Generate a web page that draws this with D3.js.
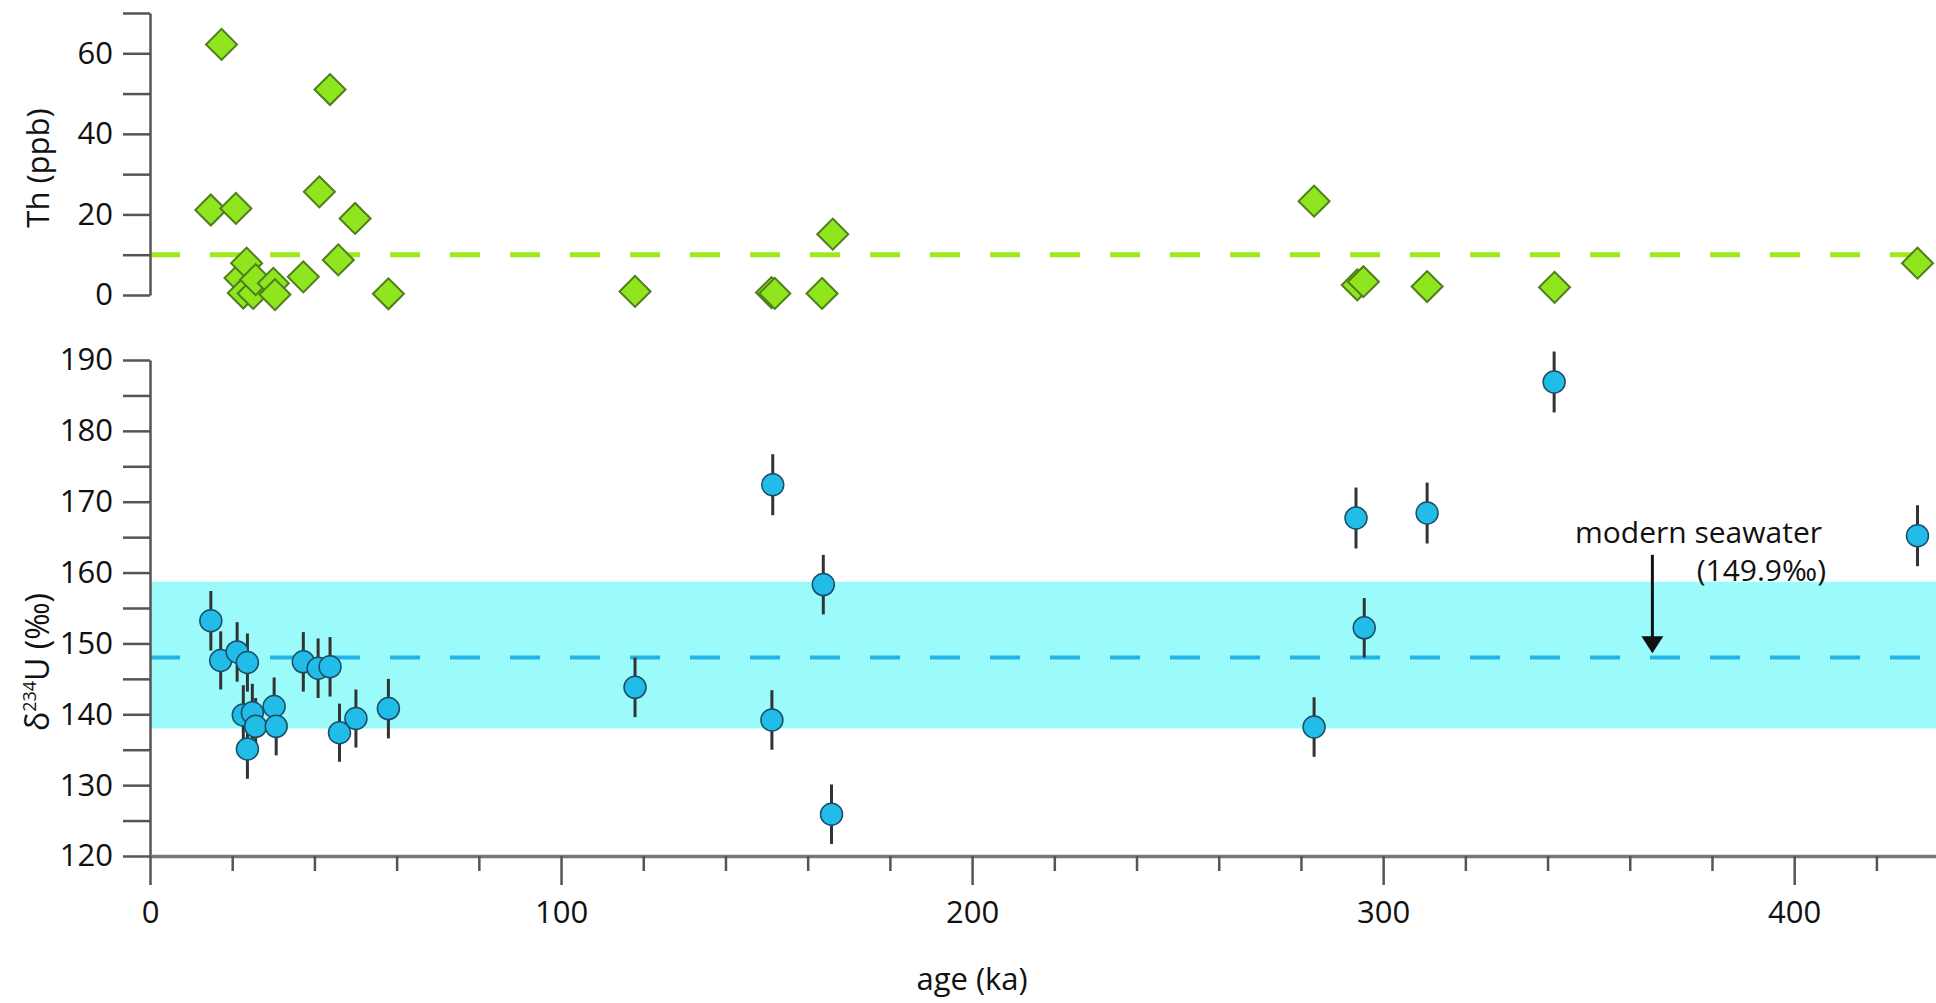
<!DOCTYPE html>
<html>
<head>
<meta charset="utf-8">
<script src="https://cdn.jsdelivr.net/npm/d3@7"></script>
<style>
  body { margin: 0; background: #fff; }
  text { font-family: "Open Sans", sans-serif; fill: #111; }
</style>
</head>
<body>
<svg id="mainSVG"></svg>
<script>
// Th concentration (top panel)
let thAge = [14.8, 17.4, 20.9, 21.9, 22.7, 23.5, 25.1, 25.7, 30.0, 30.4, 37.3, 41.2, 43.8, 45.8, 49.9, 58.0,
             118.0, 151.2, 152.0, 163.5, 166.1, 283.2, 293.7, 295.2, 310.7, 341.7, 430.0]
let thVal = [21.1, 62.2, 21.5, 4.2, 0.5, 7.9, 0.4, 3.8, 2.9, 0.1, 4.5, 25.6, 51.0, 8.7, 19.0, 0.3,
             0.9, 0.6, 0.4, 0.4, 15.1, 23.3, 2.5, 3.3, 2.1, 1.9, 7.9]
let thLimit = 10

// δ234U (bottom panel)
let uAge = [14.8, 17.2, 21.2, 23.7, 22.7, 24.9, 25.7, 23.7, 30.2, 30.7, 37.3, 40.9, 43.8, 46.1, 50.1, 58.0,
            118.0, 151.5, 151.3, 163.8, 165.8, 283.2, 293.4, 295.4, 310.7, 341.6, 430.0]
let uVal = [153.2, 147.6, 148.8, 147.3, 139.9, 140.2, 138.3, 135.1, 141.1, 138.3, 147.4, 146.5, 146.7, 137.4, 139.4, 140.8,
            143.8, 172.4, 139.2, 158.3, 125.9, 138.2, 167.7, 152.2, 168.4, 186.9, 165.2]
let uErr = [4.2, 4.1, 4.2, 4.1, 4.2, 4.1, 4.0, 4.2, 4.1, 4.1, 4.2, 4.2, 4.2, 4.1, 4.1, 4.2,
            4.2, 4.3, 4.2, 4.2, 4.2, 4.2, 4.3, 4.2, 4.3, 4.3, 4.3]
let uMean = 148
let uBand = [138, 158.7]
let seawater = {age: 365.5, from: 162.5, to: 148.6}

let xTicks = [0, 100, 200, 300, 400]
let thTicks = [0, 20, 40, 60]
let uTicks = [120, 130, 140, 150, 160, 170, 180, 190]

let w = 1936, h = 1003
let svg = d3.select('#mainSVG').attr('width', w).attr('height', h)

let x = d3.scaleLinear().domain([0, 434.5]).range([150, 1936])
let yTh = d3.scaleLinear().domain([0, 70]).range([295, 13])
let yU = d3.scaleLinear().domain([120, 190]).range([856, 360])

let axisColor = '#555'

function styleAxis(g){
    g.selectAll('path').attr('stroke', axisColor).attr('stroke-width', 2.5)
    g.selectAll('line').attr('stroke', axisColor).attr('stroke-width', 2.5)
    g.selectAll('text').style('font-size', '31px').attr('fill', '#111')
}

// band and reference lines
svg.append('rect')
    .attr('x', x(0)).attr('width', x.range()[1] - x(0))
    .attr('y', yU(uBand[1])).attr('height', yU(uBand[0]) - yU(uBand[1]))
    .attr('fill', '#9bfbfb')

svg.append('line')
    .attr('x1', x(0)).attr('x2', x.range()[1])
    .attr('y1', yU(uMean)).attr('y2', yU(uMean))
    .attr('stroke', '#22b4e6').attr('stroke-width', 4)
    .attr('stroke-dasharray', '30,30')

svg.append('line')
    .attr('x1', x(0)).attr('x2', x.range()[1])
    .attr('y1', yTh(thLimit)).attr('y2', yTh(thLimit))
    .attr('stroke', '#9fe81a').attr('stroke-width', 5)
    .attr('stroke-dasharray', '30,30')

// axes
let thMinor = d3.range(0, 71, 10)
let gTh = svg.append('g')
    .attr('transform', `translate(${x(0)},0)`)
    .call(d3.axisLeft(yTh).tickValues(thMinor).tickSize(27).tickSizeOuter(0).tickPadding(10)
        .tickFormat(d => thTicks.includes(d) ? d : ''))
styleAxis(gTh)

let uMinor = d3.range(120, 191, 5)
let gU = svg.append('g')
    .attr('transform', `translate(${x(0)},0)`)
    .call(d3.axisLeft(yU).tickValues(uMinor).tickSize(27).tickSizeOuter(0).tickPadding(10)
        .tickFormat(d => uTicks.includes(d) ? d : ''))
styleAxis(gU)

let gX = svg.append('g')
    .attr('transform', `translate(0,${yU(120)})`)
    .call(d3.axisBottom(x).tickValues(d3.range(0, 421, 20)).tickSize(15).tickSizeOuter(0).tickPadding(30)
        .tickFormat(d => xTicks.includes(d) ? d : ''))
styleAxis(gX)
gX.selectAll('.tick line').filter(d => xTicks.includes(d)).attr('y2', 29)
gX.select('path').attr('stroke', '#777').attr('stroke-width', 3.5)

// axis titles
svg.append('text')
    .attr('x', x(200)).attr('y', 990)
    .attr('text-anchor', 'middle')
    .style('font-size', '31px')
    .text('age (ka)')

svg.append('text')
    .attr('transform', 'translate(49,168) rotate(-90)')
    .attr('text-anchor', 'middle')
    .style('font-size', '31px')
    .text('Th (ppb)')

let uTitle = svg.append('text')
    .attr('transform', 'translate(49,662) rotate(-90)')
    .attr('text-anchor', 'middle')
    .style('font-size', '32px')
uTitle.append('tspan').text('δ')
uTitle.append('tspan').attr('dy', -13).style('font-size', '18px').text('234')
uTitle.append('tspan').attr('dy', 13).text('U (‰)')

// error bars
let uData = uAge.map((a, i) => ({age: a, val: uVal[i], err: uErr[i]}))
svg.append('g')
    .selectAll('line')
    .data(uData)
    .join('line')
    .attr('x1', d => x(d.age)).attr('x2', d => x(d.age))
    .attr('y1', d => yU(d.val - d.err)).attr('y2', d => yU(d.val + d.err))
    .attr('stroke', '#333').attr('stroke-width', 3)

svg.append('g')
    .selectAll('circle')
    .data(uData)
    .join('circle')
    .attr('cx', d => x(d.age)).attr('cy', d => yU(d.val))
    .attr('r', 11)
    .attr('fill', '#22bce8')
    .attr('stroke', '#1b4d66').attr('stroke-width', 1.5)

// Th diamonds
let thData = thAge.map((a, i) => ({age: a, val: thVal[i]}))
svg.append('g')
    .selectAll('path')
    .data(thData)
    .join('path')
    .attr('d', d3.symbol().type(d3.symbolSquare).size(480))
    .attr('transform', d => `translate(${x(d.age)},${yTh(d.val)}) rotate(45)`)
    .attr('fill', '#8fe61e')
    .attr('stroke', '#4f7d1c').attr('stroke-width', 2)

// modern seawater annotation
svg.append('line')
    .attr('x1', x(seawater.age)).attr('x2', x(seawater.age))
    .attr('y1', yU(seawater.from)).attr('y2', yU(seawater.to) - 14)
    .attr('stroke', '#111').attr('stroke-width', 3)
svg.append('path')
    .attr('d', `M${x(seawater.age) - 11},${yU(seawater.to) - 17} L${x(seawater.age) + 11},${yU(seawater.to) - 17} L${x(seawater.age)},${yU(seawater.to)} Z`)
    .attr('fill', '#111')

svg.append('text')
    .attr('x', 1822).attr('y', 543)
    .attr('text-anchor', 'end')
    .style('font-size', '30px')
    .text('modern seawater')
svg.append('text')
    .attr('x', 1826).attr('y', 581)
    .attr('text-anchor', 'end')
    .style('font-size', '30px')
    .text('(149.9‰)')
</script>
</body>
</html>
